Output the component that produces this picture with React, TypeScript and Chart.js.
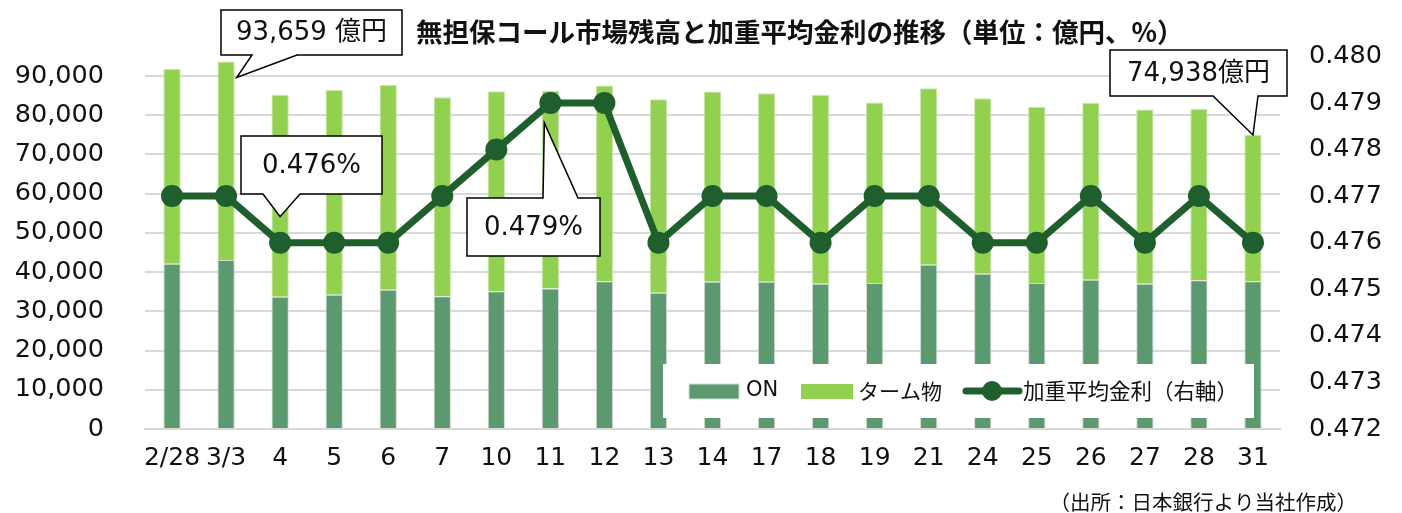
import React, { useEffect, useRef } from "react";
import { Chart, registerables } from "chart.js";

Chart.register(...registerables);

const categories = ["2/28", "3/3", "4", "5", "6", "7", "10", "11", "12", "13", "14", "17", "18", "19", "21", "24", "25", "26", "27", "28", "31"];
const onValues = [42100, 43100, 33700, 34200, 35500, 33850, 35100, 35800, 37650, 34700, 37560, 37560, 37050, 37200, 41850, 39580, 37200, 38060, 37050, 37900, 37650];
const termValues = [49730, 50559, 51470, 52220, 52170, 50730, 50980, 50450, 49930, 49380, 48440, 48020, 48120, 46050, 44980, 44750, 44880, 45110, 44370, 43680, 37288];
const rateValues = [0.477, 0.477, 0.476, 0.476, 0.476, 0.477, 0.478, 0.479, 0.479, 0.476, 0.477, 0.477, 0.476, 0.477, 0.477, 0.476, 0.476, 0.477, 0.476, 0.477, 0.476];
const leftTicks = [0, 10000, 20000, 30000, 40000, 50000, 60000, 70000, 80000, 90000];
const rightTicks = [0.472, 0.473, 0.474, 0.475, 0.476, 0.477, 0.478, 0.479, 0.48];
const seriesLabels = ["ON", "ターム物", "加重平均金利（右軸）"];
const titleText = "無担保コール市場残高と加重平均金利の推移（単位：億円、%）";
const sourceText = "（出所：日本銀行より当社作成）";

const ON_COLOR = "#5B9A6F";
const TERM_COLOR = "#92D050";
const LINE_COLOR = "#1F5E2D";
const GRID = "#D9D9D9";
const LATIN = '"DejaVu Sans", "Noto Sans CJK JP", sans-serif';
const JP = '"Noto Sans CJK JP", sans-serif';

function drawCallout(
  ctx: CanvasRenderingContext2D,
  l: number, t: number, r: number, b: number,
  side: "top" | "bottom", b1: number, b2: number,
  tx: number, ty: number, text: string
) {
  ctx.beginPath();
  if (side === "bottom") {
    ctx.moveTo(l, t);
    ctx.lineTo(r, t);
    ctx.lineTo(r, b);
    ctx.lineTo(b2, b);
    ctx.lineTo(tx, ty);
    ctx.lineTo(b1, b);
    ctx.lineTo(l, b);
  } else {
    ctx.moveTo(l, t);
    ctx.lineTo(b1, t);
    ctx.lineTo(tx, ty);
    ctx.lineTo(b2, t);
    ctx.lineTo(r, t);
    ctx.lineTo(r, b);
    ctx.lineTo(l, b);
  }
  ctx.closePath();
  ctx.fillStyle = "#FFFFFF";
  ctx.fill();
  ctx.strokeStyle = "#000000";
  ctx.lineWidth = 1.5;
  ctx.stroke();
  ctx.fillStyle = "#111111";
  ctx.font = `26px ${LATIN}`;
  ctx.textAlign = "center";
  ctx.textBaseline = "middle";
  ctx.fillText(text, (l + r) / 2, (t + b) / 2 + 1);
}

const fmt = (v: number) => v.toLocaleString("en-US");

const overlayPlugin = {
  id: "overlay",
  afterDraw(chart: any) {
    const ctx: CanvasRenderingContext2D = chart.ctx;
    const ys = chart.scales.y;
    const barMeta = chart.getDatasetMeta(1);
    const lineMeta = chart.getDatasetMeta(2);
    ctx.save();

    // title
    ctx.fillStyle = "#111111";
    ctx.font = `bold 26.5px ${JP}`;
    ctx.textAlign = "left";
    ctx.textBaseline = "middle";
    ctx.fillText(titleText, 416, 32);

    // source
    ctx.font = `20.5px ${JP}`;
    ctx.textAlign = "right";
    ctx.fillText(sourceText, 1357, 502);

    // legend
    ctx.fillStyle = "#FFFFFF";
    ctx.fillRect(663, 364, 591, 54);
    ctx.textAlign = "left";
    ctx.textBaseline = "middle";
    ctx.fillStyle = ON_COLOR;
    ctx.fillRect(689, 384, 50, 15);
    ctx.strokeStyle = GRID;
    ctx.lineWidth = 1;
    ctx.strokeRect(689, 384, 50, 15);
    ctx.fillStyle = "#111111";
    ctx.font = `21px ${LATIN}`;
    ctx.fillText(seriesLabels[0], 746, 391);
    ctx.fillStyle = TERM_COLOR;
    ctx.fillRect(801, 384, 52, 15);
    ctx.fillStyle = "#111111";
    ctx.font = `21px ${JP}`;
    ctx.fillText(seriesLabels[1], 858, 391);
    ctx.strokeStyle = LINE_COLOR;
    ctx.lineWidth = 7;
    ctx.lineCap = "round";
    ctx.beginPath();
    ctx.moveTo(966, 391);
    ctx.lineTo(1019, 391);
    ctx.stroke();
    ctx.fillStyle = LINE_COLOR;
    ctx.beginPath();
    ctx.arc(992, 391, 10, 0, Math.PI * 2);
    ctx.fill();
    ctx.fillStyle = "#111111";
    ctx.font = `21.5px ${JP}`;
    ctx.fillText(seriesLabels[2], 1023, 391);

    // callouts
    const i1 = 1;
    const bar1 = barMeta.data[i1];
    const tot1 = onValues[i1] + termValues[i1];
    drawCallout(ctx, 221, 10, 402, 55, "bottom", 252, 297,
      bar1.x + bar1.width / 2 + 2, ys.getPixelForValue(tot1) + 16,
      `${fmt(tot1)} 億円`);

    const p2 = lineMeta.data[2];
    drawCallout(ctx, 241, 136, 382, 194, "bottom", 263, 300,
      p2.x, p2.y - 26, `${rateValues[2].toFixed(3)}%`);

    const p7 = lineMeta.data[7];
    drawCallout(ctx, 467, 198, 600, 256, "top", 543, 578,
      p7.x - 6, p7.y + 20, `${rateValues[7].toFixed(3)}%`);

    const i20 = 20;
    const bar20 = barMeta.data[i20];
    const tot20 = onValues[i20] + termValues[i20];
    drawCallout(ctx, 1110, 50, 1287, 96, "bottom", 1213, 1258,
      bar20.x, ys.getPixelForValue(tot20), `${fmt(tot20)}億円`);

    ctx.restore();
  },
};

export default function App() {
  const ref = useRef<HTMLCanvasElement | null>(null);

  useEffect(() => {
    if (!ref.current) return;
    const chart = new Chart(ref.current, {
      type: "bar",
      data: {
        labels: categories,
        datasets: [
          {
            type: "bar",
            label: seriesLabels[0],
            data: onValues,
            backgroundColor: ON_COLOR,
            borderColor: "#D6D6D6",
            borderWidth: 1,
            barPercentage: 0.32,
            categoryPercentage: 1,
            yAxisID: "y",
            order: 1,
          },
          {
            type: "bar",
            label: seriesLabels[1],
            data: termValues,
            backgroundColor: TERM_COLOR,
            borderColor: "#C8E6A8",
            borderWidth: 1,
            barPercentage: 0.32,
            categoryPercentage: 1,
            yAxisID: "y",
            order: 2,
          },
          {
            type: "line",
            label: seriesLabels[2],
            data: rateValues,
            borderColor: LINE_COLOR,
            backgroundColor: LINE_COLOR,
            borderWidth: 7,
            pointRadius: 11,
            pointBorderWidth: 0,
            pointBackgroundColor: LINE_COLOR,
            yAxisID: "y1",
            order: 0,
          } as any,
        ],
      },
      options: {
        responsive: false,
        animation: false,
        devicePixelRatio: 1,
        layout: { padding: { top: 53, left: 0, right: 0, bottom: 0 } },
        plugins: {
          legend: { display: false },
          tooltip: { enabled: false },
          title: { display: false },
        },
        scales: {
          x: {
            stacked: true,
            grid: { display: false, drawTicks: false },
            border: { display: true, color: GRID, width: 2 },
            ticks: {
              autoSkip: false,
              maxRotation: 0,
              minRotation: 0,
              padding: 14,
              color: "#111111",
              font: { family: LATIN, size: 25 },
            },
            afterFit: (s: any) => { s.height = 84; },
          },
          y: {
            stacked: true,
            position: "left",
            min: 0,
            max: 95000,
            grid: { color: GRID, lineWidth: 2, drawTicks: false },
            border: { display: false },
            afterBuildTicks: (s: any) => { s.ticks = leftTicks.map((v) => ({ value: v })); },
            ticks: {
              padding: 41,
              color: "#111111",
              font: { family: LATIN, size: 25.5 },
              callback: (v: any) => fmt(Number(v)),
            },
            afterFit: (s: any) => { s.width = 145; },
          },
          y1: {
            position: "right",
            min: 0.472,
            max: 0.48,
            grid: { display: false, drawTicks: false },
            border: { display: false },
            afterBuildTicks: (s: any) => { s.ticks = rightTicks.map((v) => ({ value: v })); },
            ticks: {
              padding: 29,
              color: "#111111",
              font: { family: LATIN, size: 25.5 },
              callback: (v: any) => Number(v).toFixed(3),
            },
            afterFit: (s: any) => { s.width = 122; },
          },
        },
      } as any,
      plugins: [overlayPlugin],
    });
    return () => chart.destroy();
  }, []);

  return (
    <div style={{ position: "fixed", left: 0, top: 0, width: 1402, height: 513, background: "#FFFFFF" }}>
      <canvas ref={ref} width={1402} height={513} style={{ display: "block", width: 1402, height: 513 }} />
    </div>
  );
}
